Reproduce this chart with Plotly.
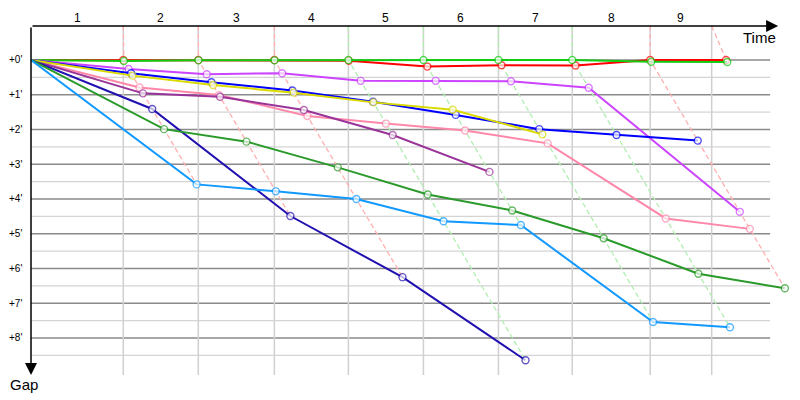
import plotly.graph_objects as go

# lap divisions on the time axis (minutes) and the leader's crossing times
lap_marks = [4.50, 8.16, 11.87, 15.48, 19.14, 22.80, 26.40, 30.20, 33.20]
leader_times = [4.50, 8.16, 11.87, 15.48, 19.14, 22.80, 26.40, 30.20, 33.90]
lap_labels = ["1", "2", "3", "4", "5", "6", "7", "8", "9"]
lap_leader = ["red", "red", "red", "green", "green", "green", "green", "red", "red"]

# gap to leader at the end of each lap (minutes)
gap_red = [0.00, 0.00, 0.00, 0.02, 0.19, 0.15, 0.16, 0.00, 0.00]
gap_green = [0.03, 0.01, 0.01, 0.00, 0.00, 0.00, 0.00, 0.05, 0.06]
gap_magenta = [0.26, 0.41, 0.38, 0.60, 0.60, 0.61, 0.80, 4.37]
gap_blue = [0.38, 0.64, 0.88, 1.20, 1.58, 1.99, 2.16, 2.32]
gap_yellow = [0.45, 0.72, 0.94, 1.22, 1.43, 2.14]
gap_pink = [0.79, 1.01, 1.61, 1.83, 2.03, 2.40, 4.56, 4.86]
gap_purple = [0.96, 1.06, 1.44, 2.16, 3.22]
gap_navy = [1.41, 4.49, 6.25, 8.64]
gap_darkgreen = [1.99, 2.35, 3.09, 3.87, 4.33, 5.13, 6.15, 6.57]
gap_lightblue = [3.58, 3.78, 4.00, 4.64, 4.75, 7.54, 7.69]

gap_ticks = [0, 1, 2, 3, 4, 5, 6, 7, 8]
gap_tick_text = ["+0'", "+1'", "+2'", "+3'", "+4'", "+5'", "+6'", "+7'", "+8'"]

COLORES = {
    "red": "#ff0000",
    "green": "#11cc11",
    "magenta": "#cc44ff",
    "blue": "#0000ff",
    "yellow": "#dada00",
    "pink": "#ff88aa",
    "purple": "#993399",
    "navy": "#2010b0",
    "darkgreen": "#2a9a2a",
    "lightblue": "#1199ff",
}
DASH_COLOR = {"red": "#ffb0b0", "green": "#b0eeb0"}

cars = [
    ("red", gap_red), ("green", gap_green), ("magenta", gap_magenta),
    ("pink", gap_pink), ("purple", gap_purple), ("yellow", gap_yellow),
    ("blue", gap_blue), ("navy", gap_navy), ("darkgreen", gap_darkgreen),
    ("lightblue", gap_lightblue),
]
# draw order: red under green, as in the original
draw_order = ["red", "green", "magenta", "pink", "purple", "blue", "yellow",
              "navy", "darkgreen", "lightblue"]

X_MAX = 37.02
Y_TOP = -0.978
Y_BOTTOM = 9.094
GRID_RIGHT = 36.05
GRID_BOTTOM = 9.065
ARROW_X = 36.44

fig = go.Figure()

# dashed "same lap" lines
for i, t_lap in enumerate(leader_times):
    pts = sorted(
        (gaps[i], t_lap + gaps[i]) for _, gaps in cars if len(gaps) > i
    )
    xs = [lap_marks[i]] + [p[1] for p in pts]
    ys = [Y_TOP] + [p[0] for p in pts]
    fig.add_trace(go.Scatter(
        x=xs, y=ys, mode="lines",
        line=dict(color=DASH_COLOR[lap_leader[i]], width=1.3, dash="5px,3px"),
        hoverinfo="skip", showlegend=False,
    ))

# car traces
gaps_by_name = dict(cars)
for name in draw_order:
    gaps = gaps_by_name[name]
    xs = [0] + [leader_times[i] + g for i, g in enumerate(gaps)]
    ys = [0] + list(gaps)
    fig.add_trace(go.Scatter(
        x=xs, y=ys, mode="lines+markers", name=name,
        line=dict(color=COLORES[name], width=2),
        marker=dict(size=[0] + [7] * len(gaps), color="white",
                    line=dict(color=COLORES[name], width=1.4)),
        showlegend=False,
    ))

shapes = []
# horizontal grid
for g in gap_ticks:
    shapes.append(dict(type="line", xref="x", yref="y", x0=0, x1=GRID_RIGHT,
                       y0=g, y1=g, layer="below",
                       line=dict(color="#8a8a8a", width=1.3)))
    shapes.append(dict(type="line", xref="x", yref="y", x0=0, x1=GRID_RIGHT,
                       y0=g + 0.5, y1=g + 0.5, layer="below",
                       line=dict(color="#d4d4d4", width=1.3)))
# vertical lap lines
for t in lap_marks:
    shapes.append(dict(type="line", xref="x", yref="y", x0=t, x1=t,
                       y0=Y_TOP, y1=GRID_BOTTOM, layer="below",
                       line=dict(color="#d0d0d0", width=1.5)))

annotations = []
# axis arrows
annotations.append(dict(x=ARROW_X, y=Y_TOP, ax=0, ay=Y_TOP, xref="x", yref="y",
                        axref="x", ayref="y", text="", showarrow=True,
                        arrowhead=2, arrowsize=1.6, arrowwidth=1.5,
                        arrowcolor="black"))
annotations.append(dict(x=0, y=GRID_BOTTOM, ax=0, ay=Y_TOP, xref="x", yref="y",
                        axref="x", ayref="y", text="", showarrow=True,
                        arrowhead=2, arrowsize=1.6, arrowwidth=1.5,
                        arrowcolor="black"))
annotations.append(dict(x=ARROW_X, y=Y_TOP, xref="x", yref="y", text="Time",
                        showarrow=False, xanchor="right", yanchor="top",
                        yshift=-1, font=dict(size=15, color="black")))
annotations.append(dict(x=0, y=GRID_BOTTOM, xref="x", yref="y", text="Gap",
                        showarrow=False, xanchor="center", yanchor="top",
                        xshift=-7, yshift=1, font=dict(size=15, color="black")))
# lap numbers
bounds = [0] + lap_marks
for i, lab in enumerate(lap_labels):
    annotations.append(dict(x=(bounds[i] + bounds[i + 1]) / 2, y=Y_TOP,
                            xref="x", yref="y", text=lab, showarrow=False,
                            yanchor="bottom", yshift=-1,
                            font=dict(size=12, color="black")))
# gap labels
for g, lab in zip(gap_ticks, gap_tick_text):
    annotations.append(dict(x=0, y=g, xref="x", yref="y", text=lab,
                            showarrow=False, xanchor="right", xshift=-7,
                            font=dict(size=10, color="black")))

# the page body adds an 8px offset, so the figure is 8px smaller and shifted back
fig.update_layout(
    width=792, height=392,
    margin=dict(l=23, r=10, t=18, b=24),
    paper_bgcolor="white", plot_bgcolor="white",
    font=dict(family="Liberation Sans, Arial, sans-serif"),
    showlegend=False,
    shapes=shapes,
    annotations=annotations,
    xaxis=dict(range=[0, X_MAX], visible=False, fixedrange=True),
    yaxis=dict(range=[Y_BOTTOM, Y_TOP], visible=False, fixedrange=True),
)

fig.write_html("out.html")
